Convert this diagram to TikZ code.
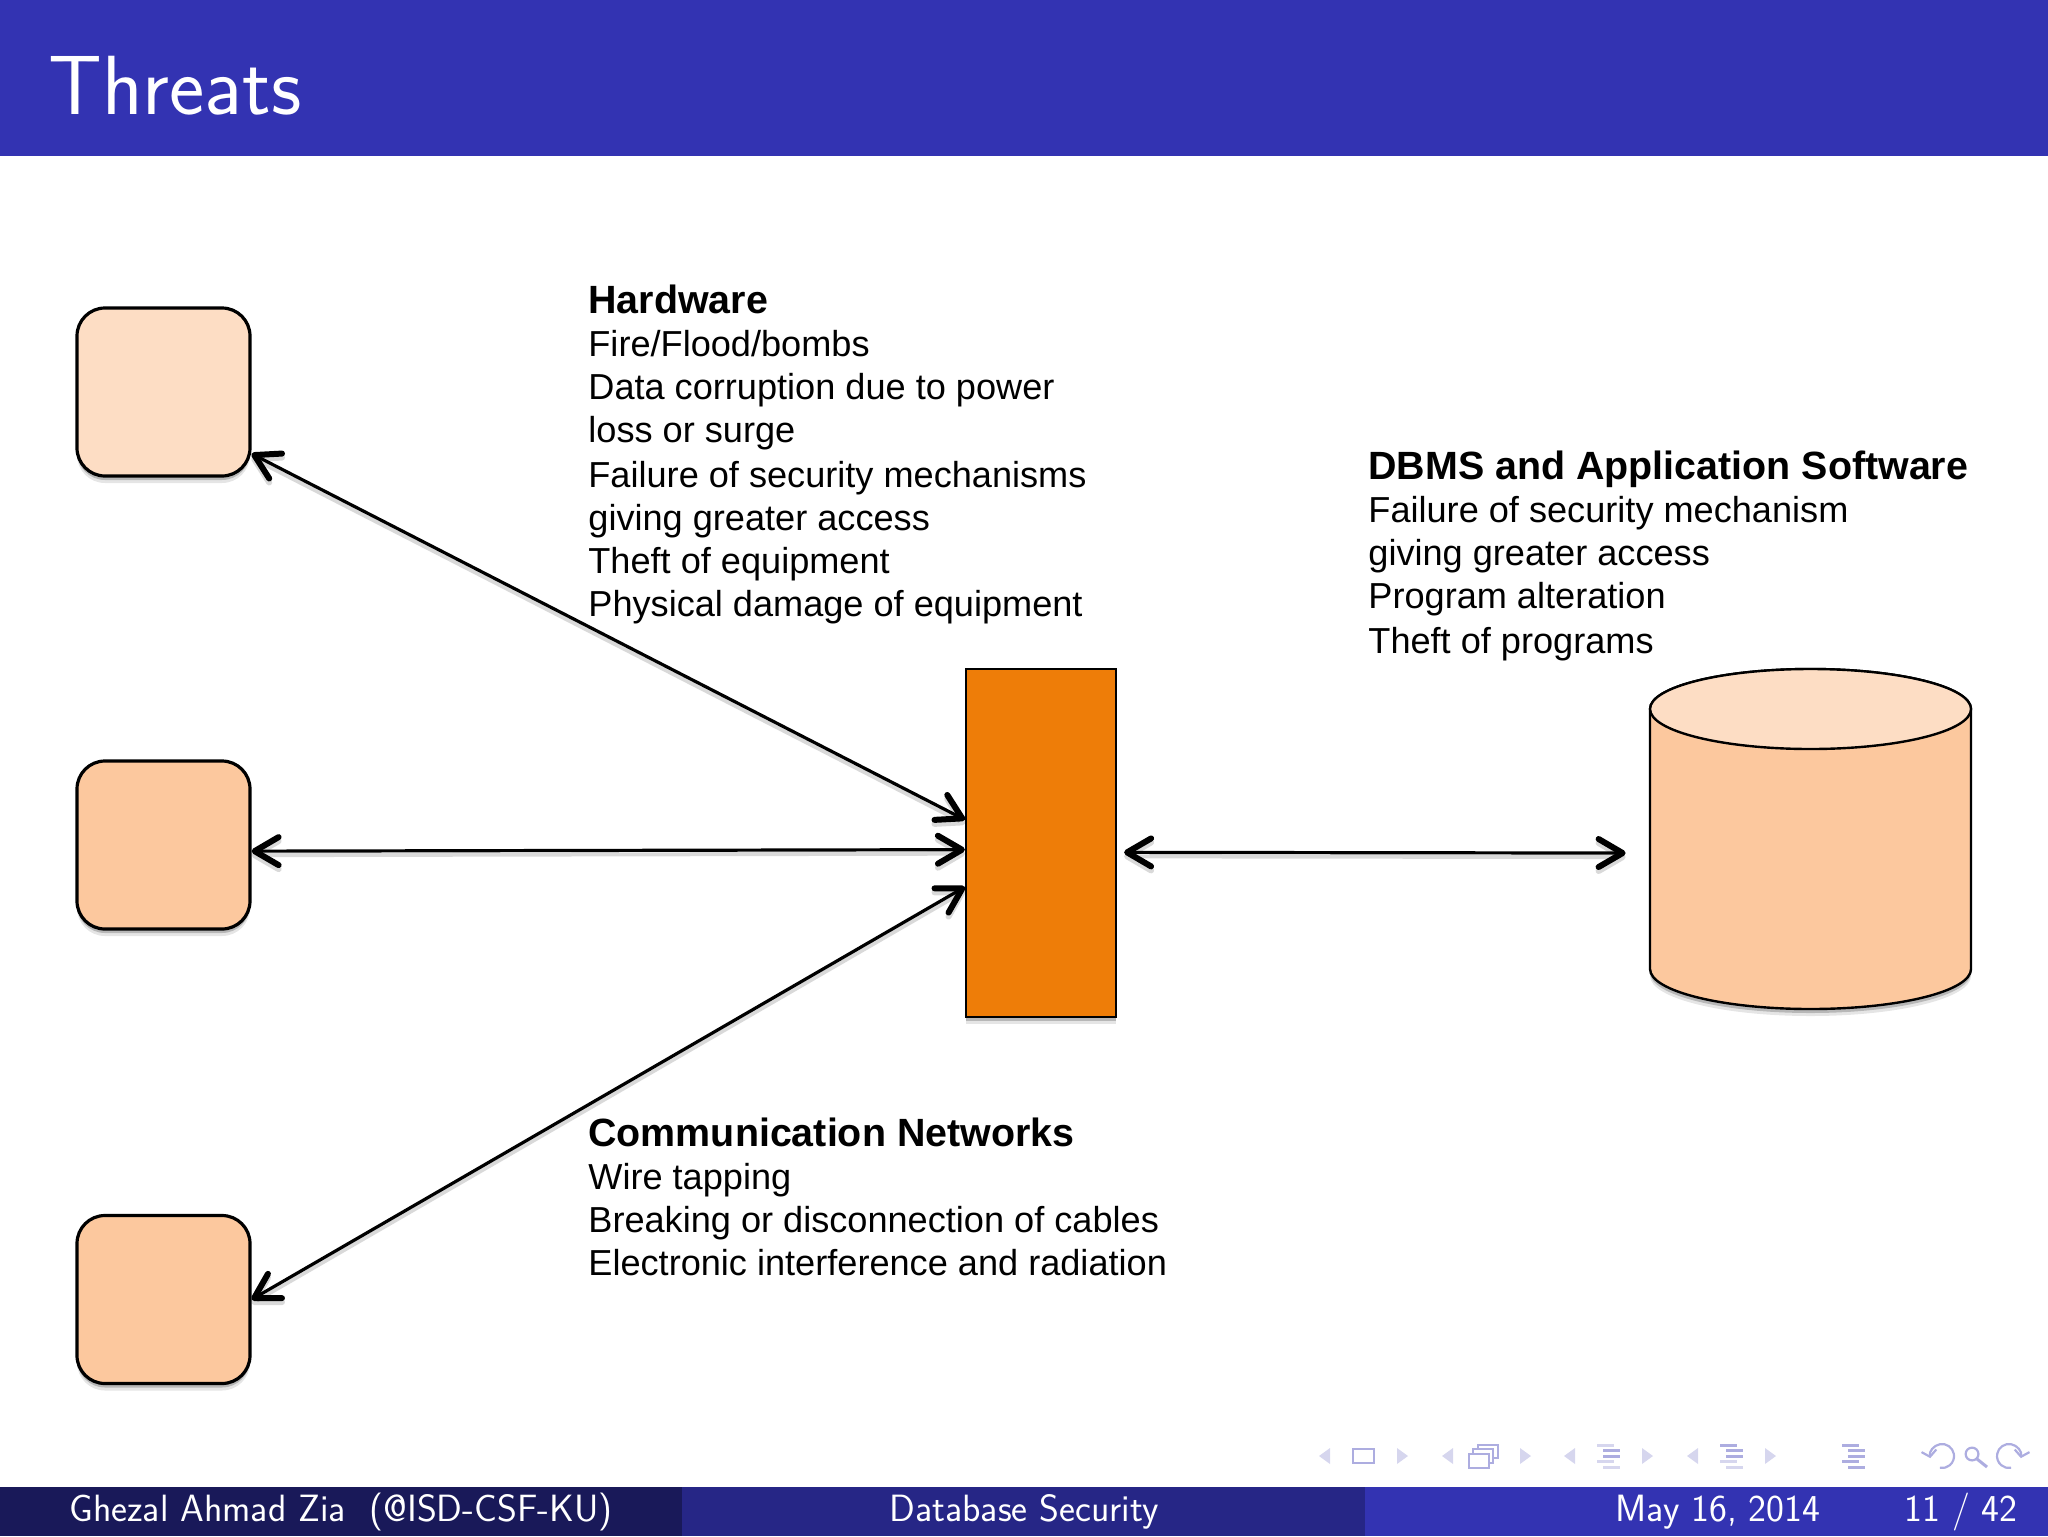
\documentclass[tikz,border=0pt]{standalone}
\usepackage{fontspec}
\newfontfamily\diagfont{Liberation Sans}
\usetikzlibrary{arrows.meta, shadows}

\definecolor{barblue}{RGB}{51,51,178}
\definecolor{barmid}{RGB}{38,38,134}
\definecolor{bardark}{RGB}{25,25,89}
\definecolor{peachlight}{RGB}{253,221,196}
\definecolor{peach}{RGB}{252,200,158}
\definecolor{gateorange}{RGB}{238,125,8}
\definecolor{navdim}{RGB}{214,214,238}
\definecolor{navdark}{RGB}{173,173,224}

\newcommand{\headfont}{\fontsize{19.7}{21.5}\selectfont\bfseries}

\begin{document}
\begin{tikzpicture}[x=0.5pt, y=-0.5pt,
    softshadow/.style={drop shadow={shadow xshift=0pt, shadow yshift=-3.5pt, opacity=0.1, fill=black}, drop shadow={shadow xshift=0pt, shadow yshift=-2pt, opacity=0.2, fill=black}},
    host/.style={draw=black, line width=1.6pt, rounded corners=14pt, minimum width=86.5pt, minimum height=84pt, inner sep=0pt, softshadow},
    link/.style={{Straight Barb[length=12pt,width=14pt,line width=3pt,round]}-{Straight Barb[length=12pt,width=14pt,line width=3pt,round]}, line width=1.6pt, preaction={draw=black, opacity=0.15, line width=2pt, transform canvas={yshift=-2pt}}},
    block/.style={anchor=north west, align=left, inner sep=0pt, font=\diagfont\fontsize{18.07}{21.5}\selectfont},
    foot/.style={text=white, inner sep=0pt, anchor=base, font=\sffamily\fontsize{19}{22}\selectfont}]
    \useasboundingbox (0, 0) rectangle (2048, 1536);

    % slide bars
    \fill[barblue] (0, 0) rectangle (2048, 155.5);
    \fill[bardark] (0, 1487) rectangle (682, 1536);
    \fill[barmid] (682, 1487) rectangle (1365, 1536);
    \fill[barblue] (1365, 1487) rectangle (2048, 1536);
    \node[anchor=base west, inner sep=0pt, text=white, font=\sffamily\fontsize{42}{48}\selectfont] (title) at (48, 114) {Threats};

    \node[host, fill=peachlight] (host_A) at (163.5, 392) {};
    \node[host, fill=peach] (host_B) at (163.5, 845) {};
    \node[host, fill=peach] (host_C) at (163.5, 1299.5) {};
    \node[draw=black, line width=1.1pt, fill=gateorange, minimum width=75pt, minimum height=174pt, inner sep=0pt, softshadow] (gate) at (1041, 843) {};

    % store: an empty node to aim at, the drum drawn on top of it
    \node[minimum width=160.5pt, minimum height=170pt, inner sep=0pt] (db) at (1810.5, 839) {};
    \draw[fill=peach, line width=1.2pt, softshadow] (1650, 709) -- (1650, 969) arc[start angle=180, end angle=360, x radius=80.25pt, y radius=20pt] -- (1971, 709) arc[start angle=0, end angle=180, x radius=80.25pt, y radius=20pt] -- cycle;
    \draw[fill=peachlight, line width=1.2pt] (1810.5, 709) ellipse[x radius=80.25pt, y radius=20pt];

    \draw[link] (host_A.-35) -- (gate.163);
    \draw[link] (host_B.-4) -- (gate.185);
    \draw[link] (host_C.east) -- (gate.210);
    \draw[link, shorten <=3.5pt, shorten >=12pt] (gate.-7.5) -- (db.185);

    \node[block] (hardware) at (588, 285) {{\headfont Hardware}\\Fire/Flood/bombs\\Data corruption due to power\\loss or surge\\[1pt]Failure of security mechanisms\\giving greater access\\Theft of equipment\\Physical damage of equipment};
    \node[block] (software) at (1368, 451) {{\headfont DBMS and Application Software}\\Failure of security mechanism\\giving greater access\\Program alteration\\[1pt]Theft of programs};
    \node[block] (network) at (588, 1118) {{\headfont Communication Networks}\\Wire tapping\\Breaking or disconnection of cables\\Electronic interference and radiation};

    \node[foot] (foot_author) at (341, 1521) {Ghezal Ahmad Zia~~(@ISD-CSF-KU)};
    \node[foot] (foot_topic) at (1024, 1521) {Database Security};
    \node[foot] (foot_date) at (1718, 1521) {May 16, 2014};
    \node[foot] (foot_page) at (1961, 1521) {11 / 42};

    % navigation symbols
    \foreach \xl/\xr in {1319/1408, 1442/1531, 1564/1653, 1687/1776} {
        \fill[navdim] (\xl+11, 1448) -- (\xl, 1456) -- (\xl+11, 1464) -- cycle;
        \fill[navdim] (\xr-11, 1448) -- (\xr, 1456) -- (\xr-11, 1464) -- cycle;
    }
    \draw[navdark, line width=1.2pt] (1353, 1449) rectangle (1374, 1463);
    \draw[navdark, line width=0.8pt, fill=white] (1478, 1445) rectangle (1498, 1458);
    \draw[navdark, line width=0.8pt, fill=white] (1473, 1449) rectangle (1493, 1463);
    \draw[navdark, line width=1.2pt, fill=white] (1469, 1454) rectangle (1489, 1468);
    \foreach \xs in {1600, 1723} {
        \foreach \yy/\dx in {1445/-3, 1450.5/3, 1456/3, 1461.5/-3, 1467/3} {
            \fill[navdim] (\xs+\dx, \yy-1.5) rectangle (\xs+\dx+17, \yy+1.5);
        }
    }
    \foreach \xs/\yy/\dx in {1600/1450.5/3, 1600/1456/3, 1723/1445/-3, 1723/1450.5/3, 1723/1456/3, 1845/1445/-3, 1845/1450.5/3, 1845/1456/3, 1845/1461.5/-3, 1845/1467/3} {
        \fill[navdark] (\xs+\dx, \yy-1.5) rectangle (\xs+\dx+17, \yy+1.5);
    }
    \draw[navdark, line width=1.1pt, {Straight Barb[length=3pt,width=7.5pt]}-] (1930.2, 1458.1) arc[start angle=190, end angle=-100, radius=6pt];
    \draw[navdark, line width=1.1pt] (1972, 1454) circle[radius=3.2pt];
    \draw[navdark, line width=1.5pt] (1977, 1459) -- (1987, 1467);
    \draw[navdark, line width=1.1pt, {Straight Barb[length=3pt,width=7.5pt]}-] (2020.8, 1458.1) arc[start angle=-10, end angle=280, radius=6pt];
\end{tikzpicture}
\end{document}
